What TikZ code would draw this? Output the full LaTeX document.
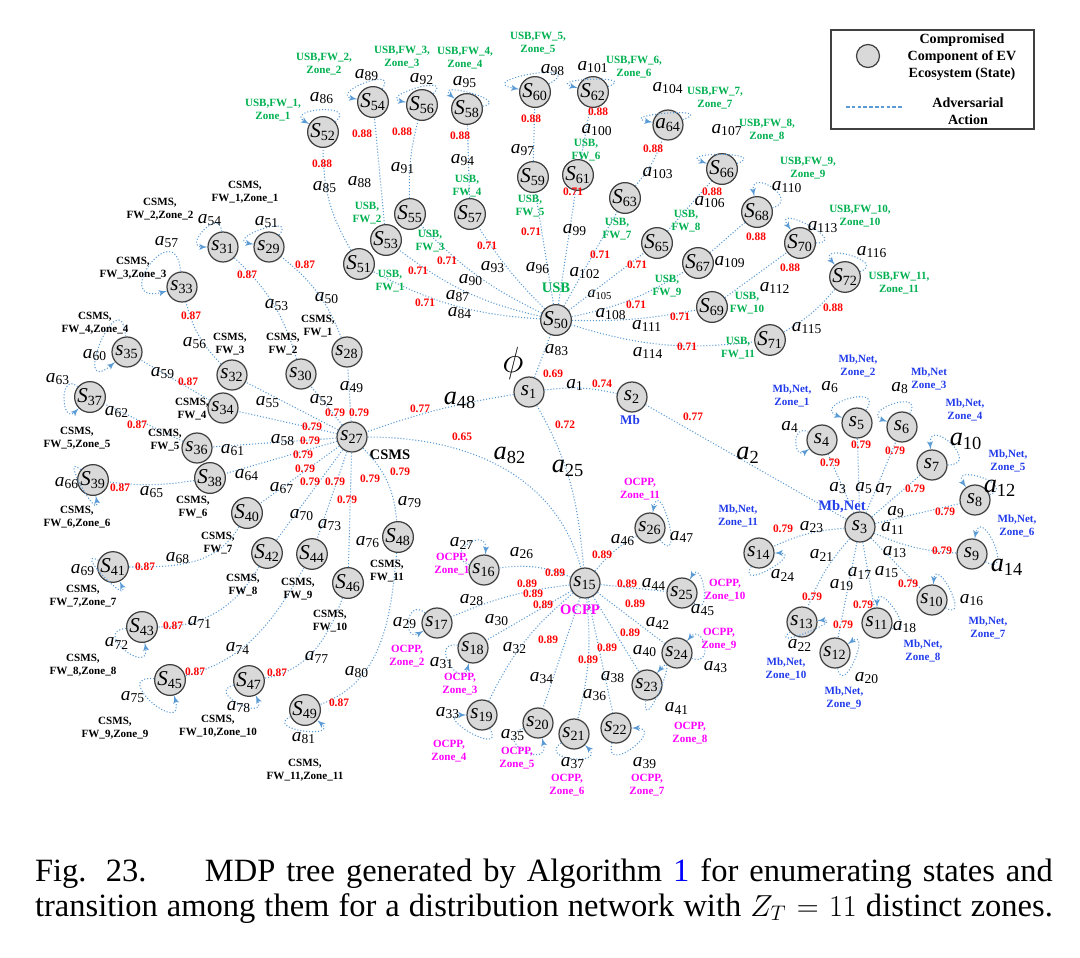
\documentclass[tikz,border=0pt]{standalone}
\usepackage{fontspec}
\setmainfont{Liberation Serif}
\usepackage{tikz}
\usetikzlibrary{arrows}

\definecolor{linkblue}{RGB}{91,155,213}
\definecolor{usbgreen}{RGB}{0,176,80}
\definecolor{ocppmag}{RGB}{255,0,255}
\definecolor{mbblue}{RGB}{35,60,235}
\definecolor{probred}{RGB}{255,0,0}
\definecolor{stategray}{RGB}{217,217,217}
\definecolor{rimgray}{RGB}{64,64,64}

\newcommand{\stlab}[2]{\textit{#1}\textsubscript{#2}}
\newcommand{\aclab}[1]{\textit{a}\textsubscript{#1}}

\tikzset{
  state/.style={circle, draw=rimgray, fill=stategray, line width=0.7pt, minimum size=0.6cm, inner sep=0pt, font=\fontsize{12}{12}\selectfont},
  act/.style={inner sep=0pt, font=\fontsize{11}{12}\selectfont},
  bigact/.style={inner sep=0pt, font=\fontsize{15}{16}\selectfont},
  prob/.style={inner sep=0pt, text=probred, font=\fontsize{6.5}{7}\selectfont\bfseries},
  zonetext/.style={inner sep=0pt, align=center, font=\fontsize{6.3}{7.6}\selectfont\bfseries},
  usbtext/.style={zonetext, text=usbgreen},
  csmstext/.style={zonetext, text=black},
  ocpptext/.style={zonetext, text=ocppmag},
  mbtext/.style={zonetext, text=mbblue},
  grouptext/.style={inner sep=0pt, font=\fontsize{8.3}{9}\selectfont\bfseries},
  link/.style={draw=linkblue, line width=0.6pt, dash pattern=on 0.6pt off 1.1pt},
  selfloop/.style={link, -latex'},
  legtext/.style={inner sep=0pt, align=center, font=\fontsize{8}{9.8}\selectfont\bfseries},
  captiontext/.style={inner sep=0pt, text width=20.36cm, align=justify, font=\fontsize{18.5}{19.5}\selectfont},
}

\begin{document}
\begin{tikzpicture}[x=0.02cm, y=-0.02cm]
\useasboundingbox (0,0) rectangle (1080,958);

% root and heads of the four branches
\node[state] (s1) at (529,392) {\stlab{s}{1}};
\node[state] (s2) at (632,397) {\stlab{s}{2}};
\node[state] (s50) at (556,320) {\stlab{S}{50}};
\node[state] (s27) at (352,437) {\stlab{s}{27}};
\node[state] (s15) at (585,583) {\stlab{s}{15}};
\node[state] (s3) at (860,527) {\stlab{s}{3}};
\node[inner sep=0pt, font=\fontsize{22}{22}\selectfont] (phi) at (513,363) {$\phi$};
\node[grouptext, text=usbgreen] (usbname) at (556,288) {USB};
\node[grouptext] (csmsname) at (390,455) {CSMS};
\node[grouptext, text=ocppmag] (ocppname) at (580,610) {OCPP};
\node[grouptext, text=mbblue] (mbnetname) at (842,507) {Mb,Net};
\node[grouptext, text=mbblue, font=\fontsize{7.5}{8}\selectfont\bfseries] (mbname) at (630,420) {Mb};

% USB branch
\node[state] (s51) at (359,264) {\stlab{S}{51}};
\node[state] (s52) at (323,132) {\stlab{S}{52}};
\node[state] (s53) at (386,240) {\stlab{S}{53}};
\node[state] (s54) at (373,102) {\stlab{S}{54}};
\node[state] (s55) at (410,214) {\stlab{S}{55}};
\node[state] (s56) at (422,105) {\stlab{S}{56}};
\node[state] (s57) at (470,214) {\stlab{S}{57}};
\node[state] (s58) at (467,109) {\stlab{S}{58}};
\node[state] (s59) at (533,177) {\stlab{S}{59}};
\node[state] (s60) at (535,92) {\stlab{S}{60}};
\node[state] (s61) at (578,175) {\stlab{S}{61}};
\node[state] (s62) at (593,92) {\stlab{S}{62}};
\node[state] (s63) at (625,198) {\stlab{S}{63}};
\node[state] (s64) at (668,125) {\stlab{a}{64}};
\node[state] (s65) at (657,243) {\stlab{S}{65}};
\node[state] (s66) at (722,169) {\stlab{S}{66}};
\node[state] (s67) at (698,263) {\stlab{S}{67}};
\node[state] (s68) at (757,212) {\stlab{S}{68}};
\node[state] (s69) at (712,307) {\stlab{S}{69}};
\node[state] (s70) at (800,243) {\stlab{S}{70}};
\node[state] (s71) at (770,340) {\stlab{S}{71}};
\node[state] (s72) at (845,277) {\stlab{S}{72}};

% CSMS branch
\node[state] (s28) at (347,352) {\stlab{s}{28}};
\node[state] (s29) at (269,247) {\stlab{s}{29}};
\node[state] (s30) at (301,374) {\stlab{s}{30}};
\node[state] (s31) at (223,247) {\stlab{s}{31}};
\node[state] (s32) at (232,375) {\stlab{s}{32}};
\node[state] (s33) at (182,287) {\stlab{s}{33}};
\node[state] (s34) at (223,408) {\stlab{s}{34}};
\node[state] (s35) at (127,352) {\stlab{s}{35}};
\node[state] (s36) at (197,448) {\stlab{s}{36}};
\node[state] (s37) at (90,397) {\stlab{S}{37}};
\node[state] (s38) at (210,478) {\stlab{S}{38}};
\node[state] (s39) at (93,480) {\stlab{S}{39}};
\node[state] (s40) at (247,513) {\stlab{S}{40}};
\node[state] (s41) at (113,567) {\stlab{S}{41}};
\node[state] (s42) at (267,553) {\stlab{S}{42}};
\node[state] (s43) at (142,627) {\stlab{S}{43}};
\node[state] (s44) at (312,554) {\stlab{S}{44}};
\node[state] (s45) at (170,680) {\stlab{S}{45}};
\node[state] (s46) at (348,583) {\stlab{S}{46}};
\node[state] (s47) at (249,681) {\stlab{S}{47}};
\node[state] (s48) at (398,537) {\stlab{S}{48}};
\node[state] (s49) at (305,710) {\stlab{S}{49}};

% OCPP branch
\node[state] (s16) at (484,570) {\stlab{s}{16}};
\node[state] (s17) at (437,623) {\stlab{s}{17}};
\node[state] (s18) at (473,648) {\stlab{s}{18}};
\node[state] (s19) at (482,715) {\stlab{s}{19}};
\node[state] (s20) at (538,723) {\stlab{s}{20}};
\node[state] (s21) at (574,734) {\stlab{s}{21}};
\node[state] (s22) at (616,728) {\stlab{s}{22}};
\node[state] (s23) at (647,685) {\stlab{s}{23}};
\node[state] (s24) at (677,653) {\stlab{s}{24}};
\node[state] (s25) at (682,593) {\stlab{s}{25}};
\node[state] (s26) at (650,528) {\stlab{s}{26}};

% Mb,Net branch
\node[state] (s4) at (822,440) {\stlab{s}{4}};
\node[state] (s5) at (857,423) {\stlab{s}{5}};
\node[state] (s6) at (902,427) {\stlab{s}{6}};
\node[state] (s7) at (932,465) {\stlab{s}{7}};
\node[state] (s8) at (975,500) {\stlab{s}{8}};
\node[state] (s9) at (972,554) {\stlab{s}{9}};
\node[state] (s10) at (932,600) {\stlab{s}{10}};
\node[state] (s11) at (877,623) {\stlab{s}{11}};
\node[state] (s12) at (835,653) {\stlab{s}{12}};
\node[state] (s13) at (802,622) {\stlab{s}{13}};
\node[state] (s14) at (759,553) {\stlab{s}{14}};

% transitions from the root
\path[link] (s1) -- (s50);
\path[link] (s1) to[bend left=10] (s2);
\path[link] (s1) to[bend right=5] (s27);
\path[link] (s1) to[out=-60,in=95] (s15);
\path[link] (s27) to[out=0,in=105] (s15);
\path[link] (s2) -- (s3);

% USB transitions
\path[link] (s50) to[bend left=12] (s51);
\path[link] (s50) to[bend left=12] (s53);
\path[link] (s50) to[bend left=10] (s55);
\path[link] (s50) to[bend left=6] (s57);
\path[link] (s50) -- (s59);
\path[link] (s50) -- (s61);
\path[link] (s50) -- (s63);
\path[link] (s50) -- (s65);
\path[link] (s50) to[bend right=10] (s67);
\path[link] (s50) to[bend right=6] (s69);
\path[link] (s50) to[bend right=12] (s71);
\path[link] (s51) to[bend left=15] (s52);
\path[link] (s53) -- (s54);
\path[link] (s55) to[bend left=8] (s56);
\path[link] (s57) -- (s58);
\path[link] (s59) -- (s60);
\path[link] (s61) -- (s62);
\path[link] (s63) to[bend right=10] (s64);
\path[link] (s65) -- (s66);
\path[link] (s67) -- (s68);
\path[link] (s69) -- (s70);
\path[link] (s71) to[bend right=10] (s72);

% CSMS transitions
\path[link] (s27) -- (s28);
\path[link] (s27) -- (s30);
\path[link] (s27) -- (s32);
\path[link] (s27) -- (s34);
\path[link] (s27) -- (s36);
\path[link] (s27) -- (s38);
\path[link] (s27) -- (s40);
\path[link] (s27) -- (s42);
\path[link] (s27) -- (s44);
\path[link] (s27) -- (s46);
\path[link] (s27) to[bend left=20] (s48);
\path[link] (s28) to[bend right=15] (s29);
\path[link] (s30) to[bend right=15] (s31);
\path[link] (s32) to[bend left=15] (s33);
\path[link] (s34) -- (s35);
\path[link] (s36) -- (s37);
\path[link] (s38) to[bend left=8] (s39);
\path[link] (s40) to[out=-120,in=0] (s41);
\path[link] (s42) to[out=-120,in=0] (s43);
\path[link] (s44) to[out=-120,in=15] (s45);
\path[link] (s46) to[out=-110,in=10] (s47);
\path[link] (s48) to[out=-95,in=20] (s49);

% OCPP transitions
\path[link] (s15) to[bend right=15] (s16);
\path[link] (s15) to[bend right=8] (s17);
\path[link] (s15) -- (s18);
\path[link] (s15) to[bend right=12] (s19);
\path[link] (s15) -- (s20);
\path[link] (s15) to[bend left=10] (s21);
\path[link] (s15) -- (s22);
\path[link] (s15) -- (s23);
\path[link] (s15) -- (s24);
\path[link] (s15) -- (s25);
\path[link] (s15) to[bend left=10] (s26);

% Mb,Net transitions
\path[link] (s3) -- (s4);
\path[link] (s3) -- (s5);
\path[link] (s3) -- (s6);
\path[link] (s3) -- (s7);
\path[link] (s3) -- (s8);
\path[link] (s3) to[bend right=10] (s9);
\path[link] (s3) -- (s10);
\path[link] (s3) -- (s11);
\path[link] (s3) -- (s12);
\path[link] (s3) to[bend right=10] (s13);
\path[link] (s3) to[bend right=10] (s14);

% self loops
\path[selfloop] (s52) to[out=40,in=150,min distance=0.6cm] (s52);
\path[selfloop] (s54) to[out=55,in=170,min distance=0.6cm] (s54);
\path[selfloop] (s56) to[out=45,in=170,min distance=0.6cm] (s56);
\path[selfloop] (s58) to[out=10,in=140,min distance=0.6cm] (s58);
\path[selfloop] (s60) to[out=30,in=170,min distance=1.0cm] (s60);
\path[selfloop] (s62) to[out=20,in=165,min distance=0.7cm] (s62);
\path[selfloop] (s64) to[out=20,in=170,min distance=0.8cm] (s64);
\path[selfloop] (s66) to[out=20,in=160,min distance=0.7cm] (s66);
\path[selfloop] (s68) to[out=15,in=100,min distance=0.6cm] (s68);
\path[selfloop] (s70) to[out=0,in=125,min distance=0.7cm] (s70);
\path[selfloop] (s72) to[out=20,in=130,min distance=0.6cm] (s72);
\path[selfloop] (s29) to[out=50,in=170,min distance=0.6cm] (s29);
\path[selfloop] (s31) to[out=95,in=180,min distance=0.5cm] (s31);
\path[selfloop] (s33) to[out=95,in=195,min distance=1.2cm] (s33);
\path[selfloop] (s35) to[out=95,in=220,min distance=1.2cm] (s35);
\path[selfloop] (s37) to[out=140,in=225,min distance=0.5cm] (s37);
\path[selfloop] (s39) to[out=140,in=280,min distance=0.6cm] (s39);
\path[selfloop] (s41) to[out=155,in=295,min distance=0.6cm] (s41);
\path[selfloop] (s43) to[out=185,in=280,min distance=0.7cm] (s43);
\path[selfloop] (s45) to[out=175,in=285,min distance=0.9cm] (s45);
\path[selfloop] (s47) to[out=195,in=295,min distance=0.6cm] (s47);
\path[selfloop] (s49) to[out=205,in=320,min distance=0.6cm] (s49);
\path[selfloop] (s16) to[out=160,in=85,min distance=0.6cm] (s16);
\path[selfloop] (s17) to[out=140,in=210,min distance=0.5cm] (s17);
\path[selfloop] (s18) to[out=170,in=255,min distance=0.6cm] (s18);
\path[selfloop] (s19) to[out=300,in=180,min distance=0.7cm] (s19);
\path[selfloop] (s20) to[out=200,in=285,min distance=0.7cm] (s20);
\path[selfloop] (s21) to[out=215,in=315,min distance=0.6cm] (s21);
\path[selfloop] (s22) to[out=255,in=0,min distance=0.7cm] (s22);
\path[selfloop] (s23) to[out=265,in=50,min distance=0.8cm] (s23);
\path[selfloop] (s24) to[out=340,in=50,min distance=0.5cm] (s24);
\path[selfloop] (s25) to[out=320,in=60,min distance=0.5cm] (s25);
\path[selfloop] (s26) to[out=310,in=80,min distance=0.8cm] (s26);
\path[selfloop] (s4) to[out=150,in=215,min distance=0.4cm] (s4);
\path[selfloop] (s5) to[out=55,in=160,min distance=0.7cm] (s5);
\path[selfloop] (s6) to[out=60,in=160,min distance=0.6cm] (s6);
\path[selfloop] (s7) to[out=0,in=95,min distance=0.7cm] (s7);
\path[selfloop] (s8) to[out=20,in=125,min distance=0.6cm] (s8);
\path[selfloop] (s9) to[out=330,in=80,min distance=0.7cm] (s9);
\path[selfloop] (s10) to[out=330,in=85,min distance=0.6cm] (s10);
\path[selfloop] (s11) to[out=340,in=90,min distance=0.6cm] (s11);
\path[selfloop] (s12) to[out=280,in=35,min distance=0.6cm] (s12);
\path[selfloop] (s13) to[out=220,in=5,min distance=0.6cm] (s13);
\path[selfloop] (s14) to[out=240,in=0,min distance=0.6cm] (s14);

% action labels
\node[act] (a83) at (557,350) {\aclab{83}};
\node[act] (a1) at (575,385) {\aclab{1}};
\node[bigact] (a48) at (460,400) {\aclab{48}};
\node[bigact] (a25) at (568,468) {\aclab{25}};
\node[bigact] (a82) at (510,455) {\aclab{82}};
\node[bigact] (a2) at (748,455) {\aclab{2}};
\node[act] (a84) at (460,313) {\aclab{84}};
\node[act] (a87) at (458,296) {\aclab{87}};
\node[act] (a90) at (471,280) {\aclab{90}};
\node[act] (a93) at (493,267) {\aclab{93}};
\node[act] (a96) at (538,268) {\aclab{96}};
\node[act] (a99) at (575,230) {\aclab{99}};
\node[act] (a102) at (585,273) {\aclab{102}};
\node[act, font=\fontsize{9}{10}\selectfont] (a105) at (600,295) {\aclab{105}};
\node[act] (a108) at (611,314) {\aclab{108}};
\node[act] (a111) at (647,326) {\aclab{111}};
\node[act] (a114) at (648,353) {\aclab{114}};
\node[act] (a85) at (325,187) {\aclab{85}};
\node[act] (a88) at (360,182) {\aclab{88}};
\node[act] (a91) at (403,168) {\aclab{91}};
\node[act] (a94) at (463,160) {\aclab{94}};
\node[act] (a97) at (523,150) {\aclab{97}};
\node[act] (a100) at (597,130) {\aclab{100}};
\node[act] (a103) at (658,173) {\aclab{103}};
\node[act] (a106) at (710,202) {\aclab{106}};
\node[act] (a109) at (730,262) {\aclab{109}};
\node[act] (a112) at (775,288) {\aclab{112}};
\node[act] (a115) at (807,328) {\aclab{115}};
\node[act] (a86) at (322,98) {\aclab{86}};
\node[act] (a89) at (367,75) {\aclab{89}};
\node[act] (a92) at (422,79) {\aclab{92}};
\node[act] (a95) at (465,82) {\aclab{95}};
\node[act] (a98) at (553,70) {\aclab{98}};
\node[act] (a101) at (593,67) {\aclab{101}};
\node[act] (a104) at (668,88) {\aclab{104}};
\node[act] (a107) at (727,130) {\aclab{107}};
\node[act] (a110) at (787,187) {\aclab{110}};
\node[act] (a113) at (823,227) {\aclab{113}};
\node[act] (a116) at (872,252) {\aclab{116}};
\node[act] (a49) at (352,387) {\aclab{49}};
\node[act] (a52) at (322,400) {\aclab{52}};
\node[act] (a55) at (268,402) {\aclab{55}};
\node[act] (a58) at (283,440) {\aclab{58}};
\node[act] (a61) at (233,450) {\aclab{61}};
\node[act] (a64) at (247,475) {\aclab{64}};
\node[act] (a67) at (282,488) {\aclab{67}};
\node[act] (a70) at (302,515) {\aclab{70}};
\node[act] (a73) at (330,525) {\aclab{73}};
\node[act] (a76) at (368,542) {\aclab{76}};
\node[act] (a79) at (410,502) {\aclab{79}};
\node[act] (a50) at (327,298) {\aclab{50}};
\node[act] (a53) at (277,305) {\aclab{53}};
\node[act] (a56) at (195,343) {\aclab{56}};
\node[act] (a59) at (163,373) {\aclab{59}};
\node[act] (a62) at (117,412) {\aclab{62}};
\node[act] (a65) at (152,492) {\aclab{65}};
\node[act] (a68) at (178,558) {\aclab{68}};
\node[act] (a71) at (200,622) {\aclab{71}};
\node[act] (a74) at (238,648) {\aclab{74}};
\node[act] (a77) at (317,657) {\aclab{77}};
\node[act] (a80) at (357,672) {\aclab{80}};
\node[act] (a51) at (267,222) {\aclab{51}};
\node[act] (a54) at (210,220) {\aclab{54}};
\node[act] (a57) at (167,242) {\aclab{57}};
\node[act] (a60) at (95,355) {\aclab{60}};
\node[act] (a63) at (58,379) {\aclab{63}};
\node[act] (a66) at (67,483) {\aclab{66}};
\node[act] (a69) at (83,570) {\aclab{69}};
\node[act] (a72) at (117,643) {\aclab{72}};
\node[act] (a75) at (133,697) {\aclab{75}};
\node[act] (a78) at (239,707) {\aclab{78}};
\node[act] (a81) at (304,738) {\aclab{81}};
\node[act] (a26) at (522,553) {\aclab{26}};
\node[act] (a28) at (472,600) {\aclab{28}};
\node[act] (a30) at (497,620) {\aclab{30}};
\node[act] (a32) at (515,648) {\aclab{32}};
\node[act] (a34) at (542,678) {\aclab{34}};
\node[act] (a36) at (595,695) {\aclab{36}};
\node[act] (a38) at (613,677) {\aclab{38}};
\node[act] (a40) at (645,651) {\aclab{40}};
\node[act] (a42) at (658,623) {\aclab{42}};
\node[act] (a44) at (654,584) {\aclab{44}};
\node[act] (a46) at (623,540) {\aclab{46}};
\node[act] (a27) at (462,543) {\aclab{27}};
\node[act] (a29) at (405,623) {\aclab{29}};
\node[act] (a31) at (442,663) {\aclab{31}};
\node[act] (a33) at (448,713) {\aclab{33}};
\node[act] (a35) at (513,735) {\aclab{35}};
\node[act] (a37) at (573,763) {\aclab{37}};
\node[act] (a39) at (645,763) {\aclab{39}};
\node[act] (a41) at (677,708) {\aclab{41}};
\node[act] (a43) at (716,667) {\aclab{43}};
\node[act] (a45) at (703,610) {\aclab{45}};
\node[act] (a47) at (682,537) {\aclab{47}};
\node[act] (a3) at (838,488) {\aclab{3}};
\node[act] (a5) at (864,488) {\aclab{5}};
\node[act] (a7) at (884,489) {\aclab{7}};
\node[act] (a9) at (896,512) {\aclab{9}};
\node[act] (a11) at (893,528) {\aclab{11}};
\node[act] (a13) at (895,552) {\aclab{13}};
\node[act] (a15) at (887,572) {\aclab{15}};
\node[act] (a17) at (860,573) {\aclab{17}};
\node[act] (a19) at (842,585) {\aclab{19}};
\node[act] (a21) at (822,555) {\aclab{21}};
\node[act] (a23) at (812,527) {\aclab{23}};
\node[act] (a4) at (790,427) {\aclab{4}};
\node[act] (a6) at (830,387) {\aclab{6}};
\node[act] (a8) at (900,388) {\aclab{8}};
\node[bigact] (a10) at (966,441) {\aclab{10}};
\node[bigact] (a12) at (1000,488) {\aclab{12}};
\node[bigact] (a14) at (1007,567) {\aclab{14}};
\node[act] (a16) at (972,600) {\aclab{16}};
\node[act] (a18) at (905,627) {\aclab{18}};
\node[act] (a20) at (867,678) {\aclab{20}};
\node[act] (a22) at (800,645) {\aclab{22}};
\node[act] (a24) at (783,575) {\aclab{24}};

% transition probabilities
\node[prob] (p83) at (553,374) {0.69};
\node[prob] (p1) at (602,384) {0.74};
\node[prob] (p48) at (420,409) {0.77};
\node[prob] (p25) at (565,425) {0.72};
\node[prob] (p82) at (462,437) {0.65};
\node[prob] (p2) at (693,417) {0.77};
\node[prob] (p84) at (425,303) {0.71};
\node[prob] (p87) at (418,271) {0.71};
\node[prob] (p90) at (447,261) {0.71};
\node[prob] (p93) at (487,246) {0.71};
\node[prob] (p96) at (531,232) {0.71};
\node[prob] (p99) at (573,192) {0.71};
\node[prob] (p102) at (600,255) {0.71};
\node[prob] (p105) at (637,265) {0.71};
\node[prob] (p108) at (636,305) {0.71};
\node[prob] (p111) at (680,317) {0.71};
\node[prob] (p114) at (687,347) {0.71};
\node[prob] (p85) at (322,164) {0.88};
\node[prob] (p88) at (362,134) {0.88};
\node[prob] (p91) at (402,132) {0.88};
\node[prob] (p94) at (460,136) {0.88};
\node[prob] (p97) at (531,119) {0.88};
\node[prob] (p100) at (598,112) {0.88};
\node[prob] (p103) at (653,149) {0.88};
\node[prob] (p106) at (712,192) {0.88};
\node[prob] (p109) at (756,237) {0.88};
\node[prob] (p112) at (790,268) {0.88};
\node[prob] (p115) at (833,308) {0.88};
\node[prob] (p49) at (359,413) {0.79};
\node[prob] (p52) at (335,413) {0.79};
\node[prob] (p55) at (312,427) {0.79};
\node[prob] (p58) at (310,441) {0.79};
\node[prob] (p61) at (303,455) {0.79};
\node[prob] (p64) at (305,469) {0.79};
\node[prob] (p67) at (310,482) {0.79};
\node[prob] (p70) at (335,482) {0.79};
\node[prob] (p73) at (347,500) {0.79};
\node[prob] (p76) at (370,479) {0.79};
\node[prob] (p79) at (400,472) {0.79};
\node[prob] (p50) at (305,265) {0.87};
\node[prob] (p53) at (247,275) {0.87};
\node[prob] (p56) at (191,316) {0.87};
\node[prob] (p59) at (188,382) {0.87};
\node[prob] (p62) at (137,425) {0.87};
\node[prob] (p65) at (120,488) {0.87};
\node[prob] (p68) at (145,567) {0.87};
\node[prob] (p71) at (173,626) {0.87};
\node[prob] (p74) at (195,672) {0.87};
\node[prob] (p77) at (277,673) {0.87};
\node[prob] (p80) at (339,703) {0.87};
\node[prob] (p26) at (555,573) {0.89};
\node[prob] (p28) at (527,584) {0.89};
\node[prob] (p30) at (533,594) {0.89};
\node[prob] (p32) at (543,605) {0.89};
\node[prob] (p34) at (548,640) {0.89};
\node[prob] (p36) at (588,660) {0.89};
\node[prob] (p38) at (607,648) {0.89};
\node[prob] (p40) at (630,633) {0.89};
\node[prob] (p42) at (635,604) {0.89};
\node[prob] (p44) at (627,584) {0.89};
\node[prob] (p46) at (602,555) {0.89};
\node[prob] (p3) at (830,463) {0.79};
\node[prob] (p5) at (861,445) {0.79};
\node[prob] (p7) at (895,451) {0.79};
\node[prob] (p9) at (915,489) {0.79};
\node[prob] (p11) at (945,512) {0.79};
\node[prob] (p13) at (942,551) {0.79};
\node[prob] (p15) at (908,584) {0.79};
\node[prob] (p17) at (863,605) {0.79};
\node[prob] (p19) at (843,625) {0.79};
\node[prob] (p21) at (812,597) {0.79};
\node[prob] (p23) at (783,529) {0.79};

% component labels, USB
\node[usbtext] (z51) at (390,281) {USB,\\FW\_1};
\node[usbtext] (z53) at (367,213) {USB,\\FW\_2};
\node[usbtext] (z55) at (430,241) {USB,\\FW\_3};
\node[usbtext] (z57) at (467,186) {USB,\\FW\_4};
\node[usbtext] (z59) at (530,206) {USB,\\FW\_5};
\node[usbtext] (z61) at (586,150) {USB,\\FW\_6};
\node[usbtext] (z63) at (617,229) {USB,\\FW\_7};
\node[usbtext] (z65) at (686,221) {USB,\\FW\_8};
\node[usbtext] (z67) at (667,286) {USB,\\FW\_9};
\node[usbtext] (z69) at (747,303) {USB,\\FW\_10};
\node[usbtext] (z71) at (738,348) {USB,\\FW\_11};
\node[usbtext] (z52) at (273,110) {USB,FW\_1,\\Zone\_1};
\node[usbtext] (z54) at (324,64) {USB,FW\_2,\\Zone\_2};
\node[usbtext] (z56) at (402,57) {USB,FW\_3,\\Zone\_3};
\node[usbtext] (z58) at (465,58) {USB,FW\_4,\\Zone\_4};
\node[usbtext] (z60) at (538,43) {USB,FW\_5,\\Zone\_5};
\node[usbtext] (z62) at (634,67) {USB,FW\_6,\\Zone\_6};
\node[usbtext] (z64) at (715,98) {USB,FW\_7,\\Zone\_7};
\node[usbtext] (z66) at (767,130) {USB,FW\_8,\\Zone\_8};
\node[usbtext] (z68) at (808,168) {USB,FW\_9,\\Zone\_9};
\node[usbtext] (z70) at (860,216) {USB,FW\_10,\\Zone\_10};
\node[usbtext] (z72) at (899,283) {USB,FW\_11,\\Zone\_11};

% component labels, CSMS
\node[csmstext] (z28) at (318,326) {CSMS,\\FW\_1};
\node[csmstext] (z30) at (283,344) {CSMS,\\FW\_2};
\node[csmstext] (z32) at (230,344) {CSMS,\\FW\_3};
\node[csmstext] (z34) at (192,409) {CSMS,\\FW\_4};
\node[csmstext] (z36) at (165,440) {CSMS,\\FW\_5};
\node[csmstext] (z38) at (193,507) {CSMS,\\FW\_6};
\node[csmstext] (z40) at (218,543) {CSMS,\\FW\_7};
\node[csmstext] (z42) at (243,585) {CSMS,\\FW\_8};
\node[csmstext] (z44) at (298,589) {CSMS,\\FW\_9};
\node[csmstext] (z46) at (330,621) {CSMS,\\FW\_10};
\node[csmstext] (z48) at (387,571) {CSMS,\\FW\_11};
\node[csmstext] (z29) at (245,192) {CSMS,\\FW\_1,Zone\_1};
\node[csmstext] (z31) at (160,209) {CSMS,\\FW\_2,Zone\_2};
\node[csmstext] (z33) at (133,268) {CSMS,\\FW\_3,Zone\_3};
\node[csmstext] (z35) at (95,323) {CSMS,\\FW\_4,Zone\_4};
\node[csmstext] (z37) at (77,438) {CSMS,\\FW\_5,Zone\_5};
\node[csmstext] (z39) at (77,517) {CSMS,\\FW\_6,Zone\_6};
\node[csmstext] (z41) at (83,596) {CSMS,\\FW\_7,Zone\_7};
\node[csmstext] (z43) at (83,665) {CSMS,\\FW\_8,Zone\_8};
\node[csmstext] (z45) at (115,728) {CSMS,\\FW\_9,Zone\_9};
\node[csmstext] (z47) at (218,726) {CSMS,\\FW\_10,Zone\_10};
\node[csmstext] (z49) at (305,770) {CSMS,\\FW\_11,Zone\_11};

% component labels, OCPP
\node[ocpptext] (z16) at (452,564) {OCPP,\\Zone\_1};
\node[ocpptext] (z17) at (407,656) {OCPP,\\Zone\_2};
\node[ocpptext] (z18) at (460,684) {OCPP,\\Zone\_3};
\node[ocpptext] (z19) at (449,751) {OCPP,\\Zone\_4};
\node[ocpptext] (z20) at (517,758) {OCPP,\\Zone\_5};
\node[ocpptext] (z21) at (567,785) {OCPP,\\Zone\_6};
\node[ocpptext] (z22) at (647,785) {OCPP,\\Zone\_7};
\node[ocpptext] (z23) at (690,733) {OCPP,\\Zone\_8};
\node[ocpptext] (z24) at (719,639) {OCPP,\\Zone\_9};
\node[ocpptext] (z25) at (725,590) {OCPP,\\Zone\_10};
\node[ocpptext] (z26) at (640,489) {OCPP,\\Zone\_11};

% component labels, Mb,Net
\node[mbtext] (z4) at (792,396) {Mb,Net,\\Zone\_1};
\node[mbtext] (z5) at (858,366) {Mb,Net,\\Zone\_2};
\node[mbtext] (z6) at (929,379) {Mb,Net\\Zone\_3};
\node[mbtext] (z7) at (965,410) {Mb,Net,\\Zone\_4};
\node[mbtext] (z8) at (1008,461) {Mb,Net,\\Zone\_5};
\node[mbtext] (z9) at (1017,526) {Mb,Net,\\Zone\_6};
\node[mbtext] (z10) at (988,628) {Mb,Net,\\Zone\_7};
\node[mbtext] (z11) at (923,651) {Mb,Net,\\Zone\_8};
\node[mbtext] (z12) at (844,698) {Mb,Net,\\Zone\_9};
\node[mbtext] (z13) at (786,669) {Mb,Net,\\Zone\_10};
\node[mbtext] (z14) at (738,516) {Mb,Net,\\Zone\_11};

% legend
\node[draw=rimgray, line width=0.8pt, minimum width=4.06cm, minimum height=1.98cm, inner sep=0pt] (legend) at (932.5,79.5) {};
\node[state, minimum size=0.46cm] (legstate) at (868,56) {};
\node[legtext] (legstatetext) at (962,57) {Compromised\\Component of EV\\Ecosystem (State)};
\coordinate (legA) at (846,107);
\coordinate (legB) at (903,107);
\draw[draw=linkblue, line width=0.8pt, dash pattern=on 2pt off 1.3pt] (legA) -- (legB);
\node[legtext] (legacttext) at (968,111) {Adversarial\\Action};

% caption
\node[captiontext] (caption) at (544,891) {Fig. 23.\hspace{1.2em} MDP tree generated by Algorithm \textcolor{blue}{1} for enumerating states and\linebreak transition among them for a distribution network with $Z_T = 11$ distinct zones.{\parfillskip=0pt\par}};
\end{tikzpicture}
\end{document}
